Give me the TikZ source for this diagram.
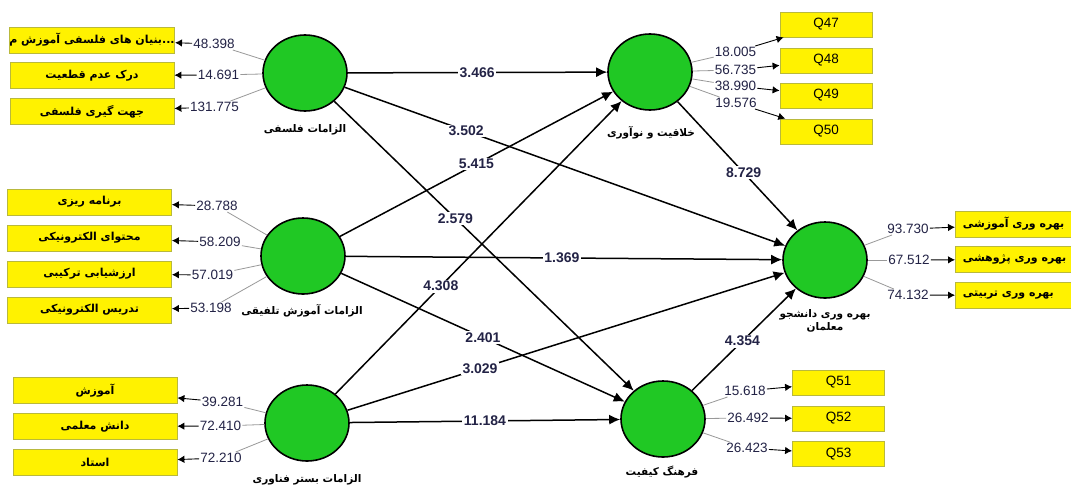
\documentclass[tikz,border=0pt]{standalone}
\usepackage{fontspec}
\setmainfont{Liberation Sans}
\newfontfamily\arabicfont[Script=Arabic]{DejaVu Sans}
\TeXXeTstate=1
\usetikzlibrary{arrows.meta,calc,shapes.geometric}
\definecolor{lvgreen}{RGB}{32,200,36}
\definecolor{indborder}{RGB}{185,185,60}
\definecolor{numtext}{RGB}{35,35,70}
\newcommand\fatext[1]{\beginR#1\endR}
\tikzset{
  x=1pt, y=-1pt,
  lv/.style={ellipse, draw=black, line width=1.6pt, fill=lvgreen, minimum width=84pt, minimum height=76pt, inner sep=0pt},
  ind/.style={draw=indborder, line width=0.8pt, fill=yellow, minimum width=164pt, minimum height=26pt, inner sep=0pt, font=\arabicfont\bfseries\fontsize{11}{13}\selectfont},
  qbox/.style={draw=indborder, line width=0.8pt, fill=yellow, minimum width=92pt, minimum height=25pt, inner sep=0pt, font=\fontsize{13.5}{15}\selectfont},
  wt/.style={fill=white, inner sep=1pt, text=numtext, font=\fontsize{13.5}{15}\selectfont},
  coef/.style={fill=white, inner sep=1.5pt, text=numtext, font=\bfseries\fontsize{14}{16}\selectfont},
  lvlabel/.style={inner sep=0pt, font=\arabicfont\bfseries\fontsize{10.5}{13}\selectfont, align=center},
  strline/.style={line width=1.5pt, -{Latex[length=11pt,width=10pt]}},
  grayline/.style={draw=gray!80, line width=0.8pt},
  indarrow/.style={line width=0.9pt, -{Latex[length=7pt,width=7.5pt]}}
}
\begin{document}
\begin{tikzpicture}
\useasboundingbox (0,0) rectangle (1071,491);
\clip (0,0) rectangle (1071,491);
\fill[white] (0,0) rectangle (1071,491);

% latent variables
\node[lv] (c1) at (305,73) {};
\node[lv] (c2) at (303,256) {};
\node[lv] (c3) at (307,423) {};
\node[lv] (c4) at (650,72) {};
\node[lv] (c5) at (825,260) {};
\node[lv] (c6) at (663,419) {};

\node[lvlabel] (t1) at (305,130) {\fatext{الزامات فلسفی}};
\node[lvlabel] (t2) at (302,311) {\fatext{الزامات آموزش تلفیقی}};
\node[lvlabel] (t3) at (307,480) {\fatext{الزامات بستر فناوری}};
\node[lvlabel] (t4) at (651,133) {\fatext{خلاقیت و نوآوری}};
\node[lvlabel] (t5) at (825,321) {\fatext{بهره وری دانشجو}\\\fatext{معلمان}};
\node[lvlabel] (t6) at (662,472) {\fatext{فرهنگ کیفیت}};

% left indicator boxes
\node[ind] (b11) at (92,40) {\fatext{بنیان های فلسفی آموزش م}...};
\node[ind] (b12) at (92,75.5) {\fatext{درک عدم قطعیت}};
\node[ind] (b13) at (92,111.5) {\fatext{جهت گیری فلسفی}};
\node[ind] (b21) at (89.5,202) {\fatext{برنامه ریزی}};
\node[ind] (b22) at (89.5,238) {\fatext{محتوای الکترونیکی}};
\node[ind] (b23) at (89.5,274) {\fatext{ارزشیابی ترکیبی}};
\node[ind] (b24) at (89.5,310) {\fatext{تدریس الکترونیکی}};
\node[ind] (b31) at (95,390.5) {\fatext{آموزش}};
\node[ind] (b32) at (95,426.5) {\fatext{دانش معلمی}};
\node[ind] (b33) at (95,462.5) {\fatext{استاد}};

% right indicator boxes
\node[qbox] (q47) at (826,24.5) {Q47};
\node[qbox] (q48) at (826,60.5) {Q48};
\node[qbox] (q49) at (826,95.5) {Q49};
\node[qbox] (q50) at (826,131.5) {Q50};
\node[qbox] (q51) at (838.5,382.5) {Q51};
\node[qbox] (q52) at (838.5,418.5) {Q52};
\node[qbox] (q53) at (838.5,454) {Q53};
\node[ind, minimum width=165pt, anchor=west] (b51) at (955,224) {\makebox[150pt][l]{\fatext{بهره وری آموزشی}}};
\node[ind, minimum width=165pt, anchor=west] (b52) at (955,259.5) {\makebox[150pt][l]{\fatext{بهره وری پژوهشی}}};
\node[ind, minimum width=165pt, anchor=west] (b53) at (955,295.5) {\makebox[150pt][l]{\fatext{بهره وری تربیتی}}};

% loading labels
\node[wt] (n11) at (214,44) {48.398};
\node[wt] (n12) at (218.5,75) {14.691};
\node[wt] (n13) at (214.5,107) {131.775};
\node[wt] (n21) at (217,206) {28.788};
\node[wt] (n22) at (220,242) {58.209};
\node[wt] (n23) at (212.5,275) {57.019};
\node[wt] (n24) at (211,308) {53.198};
\node[wt] (n31) at (222.5,402) {39.281};
\node[wt] (n32) at (220.5,426) {72.410};
\node[wt] (n33) at (221,458) {72.210};
\node[wt] (n47) at (735.5,52) {18.005};
\node[wt] (n48) at (735.5,70) {56.735};
\node[wt] (n49) at (735.5,86) {38.990};
\node[wt] (n50) at (736,103) {19.576};
\node[wt] (n51) at (745,391) {15.618};
\node[wt] (n52) at (748,418) {26.492};
\node[wt] (n53) at (747,448) {26.423};
\node[wt] (n5a) at (908,229) {93.730};
\node[wt] (n5b) at (909,260) {67.512};
\node[wt] (n5c) at (908,295) {74.132};

% loading connectors
\foreach \c/\n/\b in {c1/n11/b11, c1/n12/b12, c1/n13/b13,
  c2/n21/b21, c2/n22/b22, c2/n23/b23, c2/n24/b24,
  c3/n31/b31, c3/n32/b32, c3/n33/b33,
  c4/n47/q47, c4/n48/q48, c4/n49/q49, c4/n50/q50,
  c6/n51/q51, c6/n52/q52, c6/n53/q53,
  c5/n5a/b51, c5/n5b/b52, c5/n5c/b53}{
  \draw[grayline] (\c) -- (\n);
  \draw[indarrow] (\n) -- (\b);
}

% structural paths
\draw[strline] (c1) -- (c4);
\draw[strline] (c1) -- (c5);
\draw[strline] (c1) -- (c6);
\draw[strline] (c2) -- (c4);
\draw[strline] (c2) -- (c5);
\draw[strline] (c2) -- (c6);
\draw[strline] (c3) -- (c4);
\draw[strline] (c3) -- (c5);
\draw[strline] (c3) -- (c6);
\draw[strline] (c4) -- (c5);
\draw[strline] (c6) -- (c5);

\node[coef] (p14) at ($(c1.center)!0.499!(c4.center)$) {3.466};
\node[coef] (p15) at ($(c1.center)!0.31!(c5.center)$) {3.502};
\node[coef] (p16) at ($(c1.center)!0.42!(c6.center)$) {2.579};
\node[coef] (p24) at ($(c2.center)!0.50!(c4.center)$) {5.415};
\node[coef] (p25) at ($(c2.center)!0.496!(c5.center)$) {1.369};
\node[coef] (p26) at ($(c2.center)!0.50!(c6.center)$) {2.401};
\node[coef] (p34) at ($(c3.center)!0.39!(c4.center)$) {4.308};
\node[coef] (p35) at ($(c3.center)!0.334!(c5.center)$) {3.029};
\node[coef] (p36) at ($(c3.center)!0.50!(c6.center)$) {11.184};
\node[coef] (p45) at ($(c4.center)!0.535!(c5.center)$) {8.729};
\node[coef] (p65) at ($(c6.center)!0.49!(c5.center)$) {4.354};
\end{tikzpicture}
\end{document}
